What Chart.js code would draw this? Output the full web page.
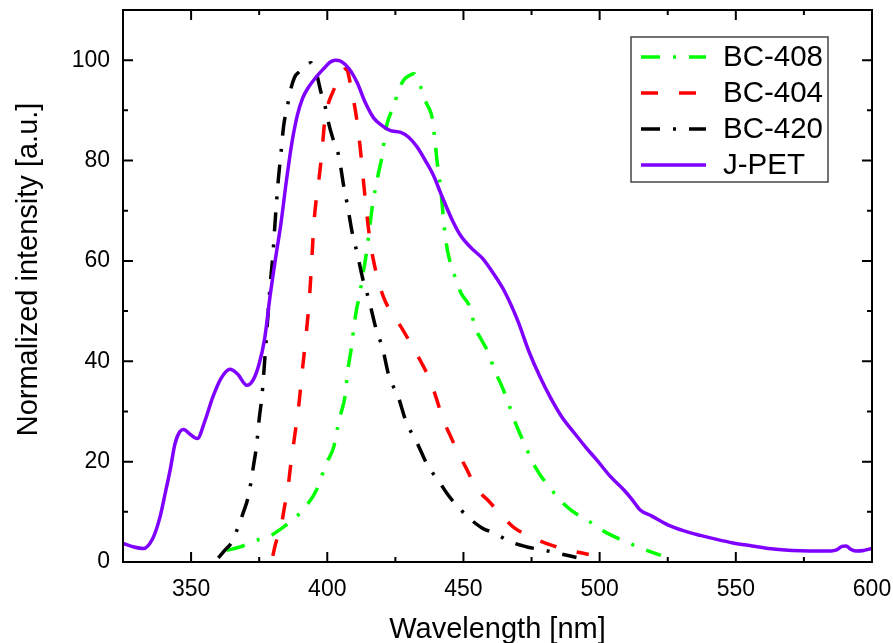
<!DOCTYPE html>
<html>
<head>
<meta charset="utf-8">
<script src="https://cdn.jsdelivr.net/npm/chart.js@4.4.1/dist/chart.umd.min.js"></script>
<style>
  body { margin: 0; background: #fff; }
</style>
</head>
<body>
<canvas id="spectra" width="893" height="643"></canvas>
<script>
// axis ticks
var xTicks = [350, 400, 450, 500, 550, 600];
var xMinor = [325, 375, 425, 475, 525, 575];
var yTicks = [0, 20, 40, 60, 80, 100];
var yMinor = [10, 30, 50, 70, 90];

// BC-408 (green)
var bc408X = [363, 368, 373, 378, 384, 388, 392, 396, 398, 400, 402.4, 403.7, 405, 406.5, 407.5, 408.9, 409.8, 410.8, 411.8, 413, 414.5, 415.3, 416.6, 417.8, 419, 420.3, 421, 422, 424.5, 426, 428, 430, 431.8, 434.4, 436.2, 438.7, 439.5, 440.5, 441.5, 442.4, 443, 444, 445.4, 447.2, 449, 452.8, 454, 456.5, 459.3, 461.4, 463.8, 466.3, 468, 470, 473, 475, 478, 482.2, 485.3, 489.6, 496.4, 500.7, 505.6, 512.3, 517, 522.5];
var bc408Y = [2.3, 3.0, 4.2, 4.9, 7, 8.7, 11, 14.3, 17.2, 20, 23, 26.6, 29.6, 33, 38, 42.9, 47, 50.5, 53, 57, 62, 65.5, 71, 74.8, 78, 81.4, 84.4, 87.4, 91, 93.7, 96, 96.9, 97.3, 94.5, 91.7, 88, 84, 79, 75, 70, 66.5, 62.5, 59.2, 56.4, 53.7, 50.2, 47.1, 44.4, 41.5, 38.2, 35.4, 32, 29.3, 26.5, 22.8, 20.3, 17.5, 14.5, 12.4, 10.3, 8, 6.4, 5, 3.4, 2.4, 1.3];

// BC-404 (red)
var bc404X = [380, 381, 383, 384.3, 385.5, 386.5, 388, 389.5, 390.8, 392, 393.5, 394.5, 395.1, 396, 397, 398, 399, 400.2, 402, 404, 405.5, 407, 408.6, 410, 411, 412, 413, 414, 415, 416, 417, 418.5, 420.3, 423.3, 427, 431.3, 434.4, 438, 440, 442.4, 444.8, 448.5, 451, 455, 459, 464.5, 468.7, 476, 482, 490, 496];
var bc404Y = [1.2, 3.6, 7, 11, 14.5, 19, 25, 31, 38, 44, 53, 62, 67.5, 72.5, 76.5, 81.5, 87.5, 91, 93.6, 96, 97.7, 98.3, 95, 91, 87.5, 83, 77.5, 72, 67, 63, 60, 56.5, 53.3, 49.8, 46.9, 42.9, 39.9, 35.9, 32.7, 28.6, 25.6, 21.3, 18.7, 14.5, 12.3, 9, 6.8, 4.7, 3.4, 2.2, 1.5];

// BC-420 (black)
var bc420X = [360, 362.5, 365, 367, 369, 371, 372, 373, 374, 375, 376, 377, 378, 379, 380, 381, 382, 383, 384, 385.3, 386.5, 388, 390, 392, 394, 395, 396.3, 397.5, 399.4, 400.6, 402, 404.3, 406, 407.4, 409.2, 411, 413, 415.3, 418, 420.3, 422.7, 425.8, 429.2, 432.5, 436.8, 441.1, 443.9, 447.3, 452.2, 456.8, 461.4, 468.1, 473.7, 479.2, 485.9, 491.5];
var bc420Y = [0.8, 2.4, 4.0, 6.6, 9.6, 13, 16, 19.5, 23, 28.5, 33, 40, 47.5, 55, 61, 69, 76, 81.5, 87, 90.6, 94, 96.6, 97.8, 98.9, 99.5, 98.5, 96.8, 94, 90.4, 87.2, 84.5, 80.7, 75, 71.1, 65.5, 61.5, 56.5, 52.2, 46.3, 42.6, 36.9, 33.3, 27.6, 24.3, 19.3, 16, 13.7, 11.4, 8.7, 6.8, 5.7, 3.85, 2.95, 2.4, 1.6, 0.9];

// J-PET (violet)
var jpetX = [325, 329, 332.5, 336, 338.6, 340.5, 342.3, 344.1, 345.9, 347.3, 349.5, 352.3, 355, 358, 361, 364.3, 367, 370.5, 373, 375, 377, 379, 381, 383, 385, 387, 389, 391, 393, 396, 399, 401, 403, 405, 408, 411, 414, 417, 420, 423, 427, 430, 433, 436, 439, 442, 446, 449, 453, 457, 461, 465, 470, 474, 478, 482, 486, 491, 495, 499, 504, 509, 512, 515, 519, 525, 531, 537, 543, 549, 556, 562, 568, 574, 580, 585, 587, 589, 590.5, 592, 594, 597, 600];
var jpetY = [3.7, 3.0, 2.7, 4.8, 9, 13.7, 18.3, 23.6, 26, 26.4, 25.5, 24.6, 28, 32.9, 36.6, 38.4, 37.5, 35.2, 36.5, 39.5, 44.5, 53, 60.5, 67.5, 76, 83.5, 89, 92.5, 94.5, 96.7, 98.5, 99.6, 100, 99.8, 98.3, 95.5, 91.5, 88.5, 87, 86, 85.6, 84.6, 82.7, 80, 77, 73, 68, 65, 62.5, 60.5, 57.5, 54, 48, 42, 37, 32.7, 29, 25.5, 22.8, 20.3, 17, 14.3, 12.4, 10.3, 9.2, 7.4, 6.2, 5.3, 4.5, 3.8, 3.2, 2.7, 2.4, 2.25, 2.2, 2.2, 2.4, 3.1, 3.2, 2.6, 2.2, 2.3, 2.7];

function pts(xs, ys) {
  return xs.map(function(x, i) { return { x: x, y: ys[i] }; });
}

var FONT = '"Liberation Sans", Arial, sans-serif';
Chart.defaults.font.family = FONT;
Chart.defaults.color = '#000';

// box round the plot with inward ticks on all four sides, plus y title
var framePlugin = {
  id: 'frame',
  afterDraw: function(chart) {
    var ctx = chart.ctx, a = chart.chartArea;
    var xs = chart.scales.x, ys = chart.scales.y;
    ctx.save();
    ctx.strokeStyle = '#000';
    ctx.lineWidth = 2;
    ctx.beginPath();
    function xt(v, len) {
      var p = xs.getPixelForValue(v);
      ctx.moveTo(p, a.bottom); ctx.lineTo(p, a.bottom - len);
      ctx.moveTo(p, a.top); ctx.lineTo(p, a.top + len);
    }
    function yt(v, len) {
      var p = ys.getPixelForValue(v);
      ctx.moveTo(a.left, p); ctx.lineTo(a.left + len, p);
      ctx.moveTo(a.right, p); ctx.lineTo(a.right - len, p);
    }
    xTicks.forEach(function(v) { xt(v, 10); });
    xMinor.forEach(function(v) { xt(v, 5); });
    yTicks.forEach(function(v) { yt(v, 10); });
    yMinor.forEach(function(v) { yt(v, 5); });
    ctx.stroke();
    ctx.strokeRect(a.left, a.top, a.right - a.left, a.bottom - a.top);

    // y axis title, sits a bit above the middle like the original
    ctx.translate(29, ys.getPixelForValue(58.3));
    ctx.rotate(-Math.PI / 2);
    ctx.font = '29px ' + FONT;
    ctx.fillStyle = '#000';
    ctx.textAlign = 'center';
    ctx.textBaseline = 'middle';
    ctx.fillText('Normalized intensity [a.u.]', 0, 0);
    ctx.restore();
  }
};

// legend box inside the plot, top right
var legendPlugin = {
  id: 'boxLegend',
  afterDraw: function(chart) {
    var ctx = chart.ctx, a = chart.chartArea;
    var bx = a.right - 241, by = a.top + 27, bw = 197, bh = 145;
    ctx.save();
    ctx.fillStyle = '#fff';
    ctx.fillRect(bx, by, bw, bh);
    ctx.strokeStyle = '#444';
    ctx.lineWidth = 1.5;
    ctx.strokeRect(bx, by, bw, bh);
    ctx.font = '29.5px ' + FONT;
    ctx.textBaseline = 'middle';
    ctx.fillStyle = '#000';
    chart.data.datasets.forEach(function(ds, i) {
      var y = by + 20 + i * 36;
      ctx.beginPath();
      ctx.strokeStyle = ds.borderColor;
      ctx.lineWidth = ds.borderWidth;
      ctx.setLineDash(ds.borderDash || []);
      ctx.moveTo(bx + 10, y);
      ctx.lineTo(bx + 75, y);
      ctx.stroke();
      ctx.setLineDash([]);
      ctx.fillText(ds.label, bx + 92, y + 1);
    });
    ctx.restore();
  }
};

var dashDot = [19, 13, 3, 13];

new Chart(document.getElementById('spectra').getContext('2d'), {
  type: 'line',
  data: {
    datasets: [
      { label: 'BC-408', data: pts(bc408X, bc408Y), borderColor: '#00ff00', borderDash: dashDot, borderWidth: 3.5, order: 3 },
      { label: 'BC-404', data: pts(bc404X, bc404Y), borderColor: '#ff0000', borderDash: [17, 21], borderWidth: 3.5, order: 2 },
      { label: 'BC-420', data: pts(bc420X, bc420Y), borderColor: '#000000', borderDash: dashDot, borderWidth: 3.5, order: 1 },
      { label: 'J-PET', data: pts(jpetX, jpetY), borderColor: '#7f00ff', borderWidth: 3.5, order: 0 }
    ]
  },
  options: {
    responsive: false,
    animation: false,
    layout: { padding: { top: 10, right: 21, left: 0, bottom: 0 } },
    plugins: { legend: { display: false }, tooltip: { enabled: false } },
    elements: {
      point: { radius: 0 },
      line: { cubicInterpolationMode: 'monotone', borderCapStyle: 'butt', fill: false }
    },
    scales: {
      x: {
        type: 'linear', min: 325, max: 600,
        afterBuildTicks: function(s) { s.ticks = xTicks.map(function(v) { return { value: v }; }); },
        afterFit: function(s) { s.height = 81; s.paddingLeft = 0; s.paddingRight = 0; },
        grid: { display: false },
        border: { display: false },
        ticks: { font: { size: 23 }, padding: 6, maxRotation: 0 },
        title: { display: true, text: 'Wavelength [nm]', font: { size: 29 }, padding: { top: 0, bottom: -4 } }
      },
      y: {
        type: 'linear', min: 0, max: 110,
        afterBuildTicks: function(s) { s.ticks = yTicks.map(function(v) { return { value: v }; }); },
        afterFit: function(s) { s.width = 123; s.paddingTop = 0; s.paddingBottom = 0; },
        grid: { display: false },
        border: { display: false },
        ticks: { font: { size: 23 }, padding: 5 },
        title: { display: false }
      }
    }
  },
  plugins: [framePlugin, legendPlugin]
});
</script>
</body>
</html>
